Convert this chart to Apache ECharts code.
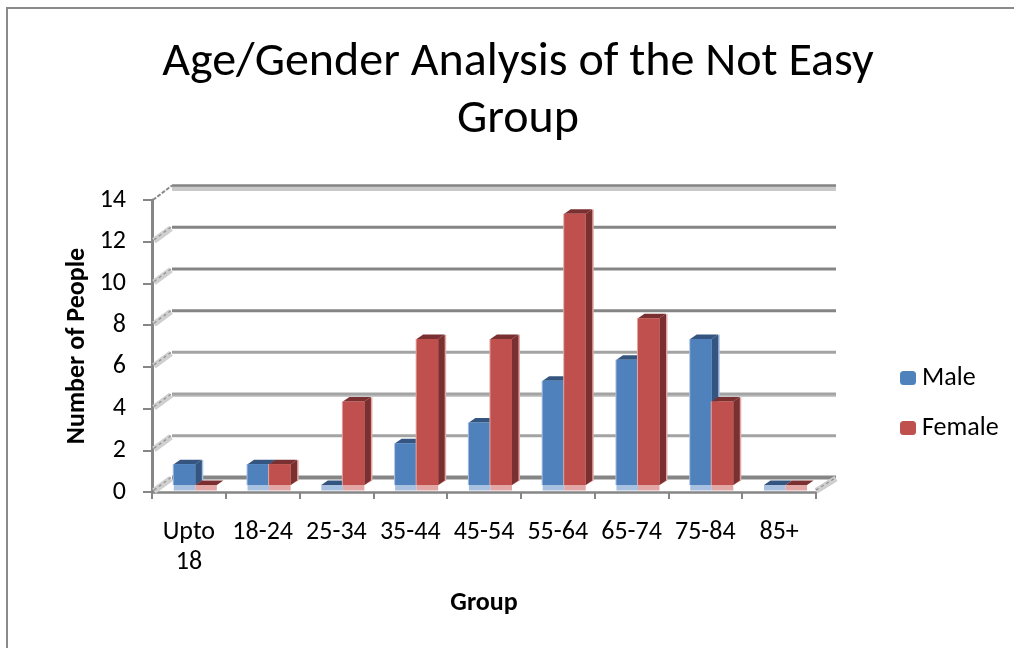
<!DOCTYPE html>
<html>
<head>
<meta charset="utf-8">
<style>html,body{margin:0;padding:0;background:#fff}#c{width:1014px;height:648px}</style>
<script src="https://cdn.jsdelivr.net/npm/echarts@6/dist/echarts.min.js"></script>
</head>
<body>
<div id="c"></div>
<script>
var titleText = 'Age/Gender Analysis of the Not Easy\nGroup';
var categories = ['Upto\n18','18-24','25-34','35-44','45-54','55-64','65-74','75-84','85+'];
var maleValues = [1,1,0,2,3,5,6,7,0];
var femaleValues = [0,1,4,7,7,13,8,4,0];
var gridTicks = [0,2,4,6,8,10,12,14];
var FONT = 'Carlito, Lato, sans-serif';
var chart = echarts.init(document.getElementById('c'), null, {renderer:'canvas'});

function wallItem(params, api){
  var v = api.value(1), cs = params.coordSys, y = api.coord([0,v])[1];
  var x0 = cs.x, x1 = cs.x + cs.width, dx = 20, dy = -14.5;
  var top = v === 14, floor = v === 0;
  var dark = (v === 2 || v === 4 || v === 6) ? '#a3a3a3' : '#858585';
  var kids = [];
  if (top) kids.push({type:'line',shape:{x1:x0+dx,y1:y+dy+3,x2:x1+dx,y2:y+dy+3},style:{stroke:'#c9c9c9',lineWidth:5}});
  if (v === 4) kids.push({type:'line',shape:{x1:x0+dx,y1:y+dy+2,x2:x1+dx,y2:y+dy+2},style:{stroke:'#c9c9c9',lineWidth:2}});
  kids.push({type:'line',shape:{x1:x0+dx,y1:y+dy,x2:x1+dx,y2:y+dy},style:{stroke:dark,lineWidth:floor?4:(top?2.5:3)}});
  if (top) {
    kids.push({type:'line',shape:{x1:x0+1,y1:y,x2:x0+dx,y2:y+dy},style:{stroke:'#8a8a8a',lineWidth:2,lineDash:[4,1.5]}});
  } else {
    kids.push({type:'line',shape:{x1:x0+2,y1:y-1,x2:x0+dx-1,y2:y+dy+1},style:{stroke:'#cfcfcf',lineWidth:6}});
    kids.push({type:'line',shape:{x1:x0+2,y1:y-2,x2:x0+dx-1,y2:y+dy},style:{stroke:'#8f8f8f',lineWidth:1.2,lineDash:[3,3]}});
  }
  if (floor) {
    kids.push({type:'line',shape:{x1:x1,y1:y-1,x2:x1+dx,y2:y+dy+1},style:{stroke:'#cfcfcf',lineWidth:6}});
    kids.push({type:'line',shape:{x1:x1,y1:y-2,x2:x1+dx,y2:y+dy},style:{stroke:'#8f8f8f',lineWidth:1.2,lineDash:[3,3]}});
  }
  return {type:'group',children:kids};
}

function barRender(idx, front, side, pale){
  return function(params, api){
    var i = api.value(0), v = api.value(1);
    var c = api.coord([i,v]), base = api.coord([i,0]), band = api.size([1,0])[0];
    var w = band*0.292, x = c[0]-band/2 + band*0.295 + idx*w;
    var by = base[1]-7, ty = c[1]-7, dx = 6.5, dy = -4.5, h = by-ty;
    var kids = [];
    if (h > 0) kids.push({type:'rect',shape:{x:x-1,y:ty,width:w+2,height:h},style:{fill:pale}});
    kids.push({type:'polygon',shape:{points:[[x+w,by],[x+w+dx+1.5,by+dy],[x+w+dx+1.5,ty+dy],[x+w,ty]]},style:{fill:pale}});
    kids.push({type:'rect',shape:{x:x,y:by,width:w,height:5.5},style:{fill:pale}});
    kids.push({type:'polygon',shape:{points:[[x+w,by],[x+w+dx,by+dy],[x+w+dx,ty+dy],[x+w,ty]]},style:{fill:side}});
    kids.push({type:'polygon',shape:{points:[[x,ty],[x+dx,ty+dy],[x+w+dx,ty+dy],[x+w,ty]]},style:{fill:side}});
    if (h > 0) kids.push({type:'rect',shape:{x:x,y:ty,width:w,height:h},style:{fill:front}});
    return {type:'group',children:kids};
  };
}

function pairs(arr){ return arr.map(function(v,i){return [i,v];}); }

chart.setOption({
  animation:false,
  backgroundColor:'#fff',
  textStyle:{fontFamily:FONT},
  title:{text:titleText,left:513,top:29,textAlign:'center',
    textStyle:{fontFamily:FONT,fontSize:48,fontWeight:'normal',color:'#000',lineHeight:57}},
  graphic:[{type:'polyline',silent:true,shape:{points:[[7,648],[7,8],[1014,8]]},style:{stroke:'#8a8a8a',lineWidth:2,fill:null}}],
  legend:{orient:'vertical',left:895,top:360,itemWidth:16,itemHeight:14,itemGap:24,
    data:['Male','Female'],textStyle:{fontFamily:FONT,fontSize:26,color:'#000',padding:[0,0,0,1]}},
  grid:{left:152,right:198,top:200,bottom:156},
  xAxis:{type:'category',data:categories,boundaryGap:true,
    name:'Group',nameLocation:'middle',nameGap:98,nameMoveOverlap:false,
    nameTextStyle:{fontFamily:FONT,fontSize:26,fontWeight:'bold',color:'#000'},
    axisLine:{lineStyle:{color:'#868686',width:2.5}},
    axisTick:{show:true,length:7,alignWithLabel:false,lineStyle:{color:'#868686',width:2}},
    axisLabel:{interval:0,fontFamily:FONT,fontSize:26,color:'#000',margin:25,lineHeight:30}},
  yAxis:{type:'value',min:0,max:14,interval:2,
    name:'Number of People',nameLocation:'middle',nameGap:62,nameMoveOverlap:false,
    nameTextStyle:{fontFamily:FONT,fontSize:26,fontWeight:'bold',color:'#000'},
    axisLine:{show:true,lineStyle:{color:'#868686',width:3}},
    axisTick:{show:true,length:9,lineStyle:{color:'#868686',width:2}},
    splitLine:{show:false},
    axisLabel:{fontFamily:FONT,fontSize:26,color:'#000',margin:26,padding:[8,0,0,0]}},
  series:[
    {name:'Wall',type:'custom',z:1,silent:true,renderItem:wallItem,data:gridTicks.map(function(v){return [0,v];}),encode:{x:0,y:1}},
    {name:'Male',type:'custom',z:3,itemStyle:{color:'#4F81BD'},renderItem:barRender(0,'#4F81BD','#34557F','#A9C1E0'),data:pairs(maleValues),encode:{x:0,y:1}},
    {name:'Female',type:'custom',z:4,itemStyle:{color:'#C0504D'},renderItem:barRender(1,'#C0504D','#7A3030','#E3A8A6'),data:pairs(femaleValues),encode:{x:0,y:1}}
  ]
});
</script>
</body>
</html>
